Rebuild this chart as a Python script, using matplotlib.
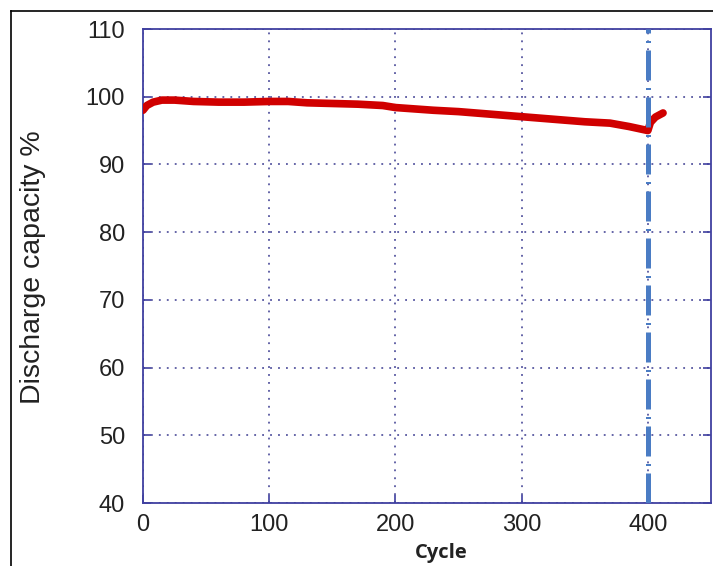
import matplotlib
matplotlib.use("Agg")
import matplotlib.pyplot as plt
from matplotlib.lines import Line2D

cycles = [0, 3, 8, 15, 25, 40, 60, 80, 100, 115, 130, 150, 170, 190, 200, 215, 230, 250,
          270, 290, 310, 330, 350, 370, 385, 395, 400, 402, 406, 412]
capacity = [98.0, 98.7, 99.2, 99.5, 99.5, 99.3, 99.2, 99.2, 99.3, 99.3, 99.1, 99.0, 98.9, 98.7,
            98.4, 98.2, 98.0, 97.8, 97.5, 97.2, 96.9, 96.6, 96.3, 96.1, 95.6, 95.2, 95.0, 96.2,
            97.0, 97.6]
marker_cycle = 400
x_ticks = [0, 100, 200, 300, 400]
y_ticks = [40, 50, 60, 70, 80, 90, 100, 110]

W, H = 713, 566
fig = plt.figure(figsize=(W / 100, H / 100), dpi=100)
ax = fig.add_axes([143 / W, 1 - 503 / H, (711 - 143) / W, (503 - 29) / H])

spine_c = "#4040a0"
ax.plot(cycles, capacity, color="#d00000", lw=5.5, solid_capstyle="round", zorder=3)
ax.plot([marker_cycle, marker_cycle], [40, 110], color="#4a7cc4", lw=3.6,
        ls=(0, (6.0, 1.5, 0.4, 1.5)), zorder=4)

ax.set_xlim(0, 450)
ax.set_ylim(40, 110)
ax.set_xticks(x_ticks)
ax.set_yticks(y_ticks)
for s in ax.spines.values():
    s.set_color(spine_c)
    s.set_linewidth(1.3)
ax.tick_params(direction="in", length=6, color=spine_c, width=1.2, top=False, right=True,
               labelsize=17, labelcolor="#222222")
ax.tick_params(axis="y", pad=13)
ax.tick_params(axis="x", pad=8)
for lab in ax.get_xticklabels() + ax.get_yticklabels():
    lab.set_family(["Liberation Sans", "DejaVu Sans"])
ax.grid(True, color="#3a3a90", ls=(0, (1.2, 4)), lw=1.1)

fig.text(33 / W, 1 - 267 / H, "Discharge capacity %", rotation=90, ha="center", va="center",
         fontsize=20.5, family=["Liberation Sans", "DejaVu Sans"], color="#222222")
fig.text(441 / W, 1 - 553 / H, "Cycle", ha="center", va="center", fontsize=14.5,
         fontweight="bold", family=["Open Sans", "DejaVu Sans"], color="#222222")

fig.add_artist(Line2D([11 / W, 11 / W], [0, 1 - 11 / H], color="black", lw=1.2))
fig.add_artist(Line2D([11 / W, 1], [1 - 11 / H, 1 - 11 / H], color="black", lw=1.2))

fig.savefig("out.png", dpi=100)
